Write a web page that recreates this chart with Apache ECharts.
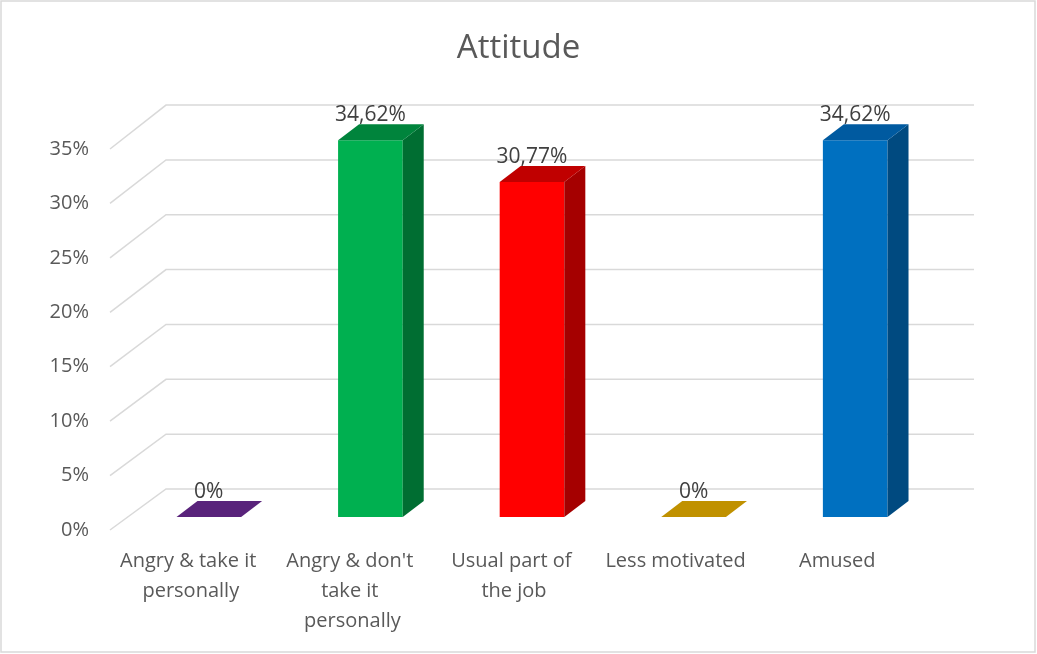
<!DOCTYPE html>
<html>
<head>
<meta charset="utf-8">
<script src="https://cdn.jsdelivr.net/npm/echarts@6/dist/echarts.min.js"></script>
<style>
html,body{margin:0;padding:0;background:#fff;}
#chart{width:1037px;height:654px;}
</style>
</head>
<body>
<div id="chart"></div>
<script>
// ---- data ----
var categories = ["Angry & take it personally", "Angry & don't take it personally", "Usual part of the job", "Less motivated", "Amused"];
var values = [0, 34.62, 30.77, 0, 34.62];
var yTicks = [0, 5, 10, 15, 20, 25, 30, 35];
var frontColors = ["#7030A0", "#00B050", "#FF0000", "#C09100", "#0070C0"];
var topColors = ["#59237B", "#00843C", "#C00000", "#C09100", "#005AA0"];
var sideColors = ["#4A1D66", "#006E32", "#A50000", "#9C7600", "#004A80"];

var TEXT = "#595959";
var FONT = "'Open Sans', 'Noto Sans', sans-serif";
var BAR_DX = 21, BAR_DY = -16;   // bar depth
var WALL_DX = 56, WALL_DY = -41; // floor depth (front to back wall)

function fmt(v) {
  return v === 0 ? "0%" : v.toFixed(2).replace(".", ",") + "%";
}

var chart = echarts.init(document.getElementById("chart"));
chart.setOption({
  backgroundColor: "#fff",
  animation: false,
  title: {
    text: "Attitude",
    left: "center",
    top: 27,
    textStyle: { color: TEXT, fontSize: 33, fontWeight: "normal", fontFamily: FONT }
  },
  graphic: [{
    type: "rect",
    shape: { x: 1, y: 1, width: 1034, height: 651 },
    style: { fill: "none", stroke: "#D9D9D9", lineWidth: 1.5 },
    silent: true
  }],
  grid: [
    // bar plane (middle of depth)
    { left: 128, right: 101, top: 136, bottom: 137 },
    // front plane (axis labels)
    { left: 110, right: 119, top: 149, bottom: 124 }
  ],
  xAxis: [
    { type: "category", data: categories, gridIndex: 0, show: false },
    {
      type: "category", data: categories, gridIndex: 1,
      axisLine: { show: false }, axisTick: { show: false },
      axisLabel: {
        color: TEXT, fontSize: 20, fontFamily: FONT, lineHeight: 30,
        margin: 16, interval: 0, width: 152, overflow: "break"
      }
    }
  ],
  yAxis: [
    { type: "value", gridIndex: 0, min: 0, max: 35, interval: 5, show: false },
    {
      type: "value", gridIndex: 1, min: 0, max: 35, interval: 5,
      axisLine: { show: false }, axisTick: { show: false }, splitLine: { show: false },
      axisLabel: { color: TEXT, fontSize: 20, fontFamily: FONT, margin: 21, padding: [5, 0, 0, 0], formatter: "{value}%" }
    }
  ],
  series: [
    {
      type: "custom",
      xAxisIndex: 1, yAxisIndex: 1,
      z: 1,
      silent: true,
      data: yTicks.map(function (t) { return [0, t]; }),
      renderItem: function (params, api) {
        var cs = params.coordSys;
        var y0 = api.coord([0, 0])[1];
        var yF = api.coord([0, api.value(1)])[1];
        var yB = yF + WALL_DY - (y0 - yF) * 0.0077;
        var xL = cs.x, xR = cs.x + cs.width;
        return {
          type: "polyline",
          shape: { points: [[xL, yF], [xL + WALL_DX, yB], [xR + WALL_DX, yB]] },
          style: { stroke: "#D9D9D9", lineWidth: 1.5, fill: null }
        };
      }
    },
    {
      type: "custom",
      xAxisIndex: 0, yAxisIndex: 0,
      z: 5,
      data: values.map(function (v, i) { return [i, v]; }),
      renderItem: function (params, api) {
        var i = api.value(0), v = api.value(1);
        var top = api.coord([i, v]);
        var base = api.coord([i, 0]);
        var w = api.size([1, 0])[0] * 0.4;
        var x = top[0] - w / 2, yt = top[1], yb = base[1];
        var children = [];
        if (yb - yt > 0.5) {
          children.push({
            type: "rect",
            shape: { x: x, y: yt, width: w, height: yb - yt },
            style: { fill: frontColors[i] }
          });
          children.push({
            type: "polygon",
            shape: { points: [[x + w, yt], [x + w + BAR_DX, yt + BAR_DY], [x + w + BAR_DX, yb + BAR_DY], [x + w, yb]] },
            style: { fill: sideColors[i] }
          });
        }
        children.push({
          type: "polygon",
          shape: { points: [[x, yt], [x + w, yt], [x + w + BAR_DX, yt + BAR_DY], [x + BAR_DX, yt + BAR_DY]] },
          style: { fill: topColors[i] }
        });
        children.push({
          type: "text",
          style: {
            x: top[0], y: yt - 25, text: fmt(v),
            fill: "#404040", fontSize: 21, fontFamily: FONT,
            align: "center", verticalAlign: "middle"
          },
          z2: 10
        });
        return { type: "group", children: children };
      }
    }
  ]
});
</script>
</body>
</html>
